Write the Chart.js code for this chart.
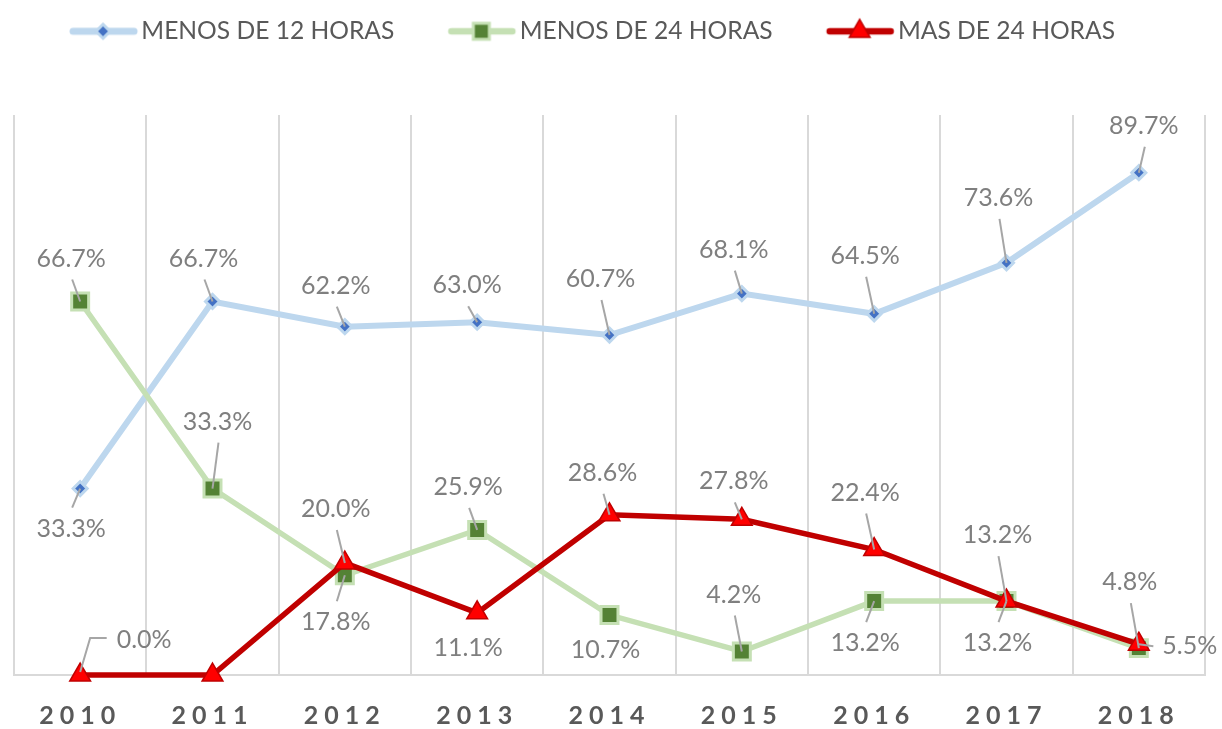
<!DOCTYPE html>
<html>
<head>
<meta charset="utf-8">
<script src="https://cdn.jsdelivr.net/npm/chart.js@4.4.1/dist/chart.umd.min.js"></script>
<style>
html,body{margin:0;padding:0;background:#ffffff;}
#wrap{width:1222px;height:729px;}
</style>
</head>
<body>
<div id="wrap"><canvas id="c" width="1222" height="729"></canvas></div>
<script>
// ---- data ----
const categories = ['2010', '2011', '2012', '2013', '2014', '2015', '2016', '2017', '2018'];
const seriesNames = ['MENOS DE 12 HORAS', 'MENOS DE 24 HORAS', 'MAS DE 24 HORAS'];
const menos12 = [33.3, 66.7, 62.2, 63.0, 60.7, 68.1, 64.5, 73.6, 89.7];
const menos24 = [66.7, 33.3, 17.8, 25.9, 10.7, 4.2, 13.2, 13.2, 4.8];
const mas24   = [0.0, 0.0, 20.0, 11.1, 28.6, 27.8, 22.4, 13.2, 5.5];

// ---- label placement (offset of label from its point, leader type: 0 none, 1 straight, 2 elbow, 3 side) ----
const LABEL_LAYOUT = [
  [[-9,40,1],[-9,-43,1],[-9,-41,1],[-10,-37,1],[-9,-56,1],[-8,-44,1],[-9,-58,1],[-8,-65,1],[5,-47,1]],
  [[-9,-43,1],[5,-67,1],[-9,47,1],[-9,-43,1],[-4,35,0],[-8,-57,1],[-9,42,1],[-9,42,1],[-9,-66,1]],
  [[64,-35,2],null,[-9,-54,1],[-9,35,0],[-7,-42,1],[-8,-38,1],[-9,-57,1],[-9,-66,1],[51,2,3]]
];

const STYLE = [
  {line:'#bdd7ee', lw:6, shape:'rectRot', r:7, fill:'#4472c4', border:'#bdd7ee', bw:3},
  {line:'#c5e0b4', lw:5.5, shape:'rect', r:12, fill:'#548235', border:'#c5e0b4', bw:3},
  {line:'#c00000', lw:5.5, shape:'triangle', r:12, fill:'#ff0000', border:'#c00000', bw:1.5}
];

function makeIcon(s) {
  const c = document.createElement('canvas');
  c.width = 131; c.height = 30;
  const g = c.getContext('2d');
  g.strokeStyle = s.line; g.lineWidth = s.lw + 1; g.lineCap = 'round';
  g.beginPath(); g.moveTo(58, 15); g.lineTo(119, 15); g.stroke();
  const cx = 88, cy = 15;
  g.fillStyle = s.fill; g.strokeStyle = s.border; g.lineWidth = s.bw;
  g.beginPath();
  if (s.shape === 'rectRot') {
    const r = 7;
    g.moveTo(cx - r, cy); g.lineTo(cx, cy - r); g.lineTo(cx + r, cy); g.lineTo(cx, cy + r); g.closePath();
  } else if (s.shape === 'rect') {
    const h = 8;
    g.rect(cx - h, cy - h, 2*h, 2*h);
  } else {
    const r = 12;
    g.moveTo(cx, cy - r);
    g.lineTo(cx + r*Math.sin(2*Math.PI/3), cy - r*Math.cos(2*Math.PI/3));
    g.lineTo(cx + r*Math.sin(4*Math.PI/3), cy - r*Math.cos(4*Math.PI/3));
    g.closePath();
  }
  g.fill(); g.stroke();
  return c;
}
const icons = STYLE.map(makeIcon);

const labelPlugin = {
  id: 'pctLabels',
  afterInit(chart) {
    const lg = chart.legend;
    if (lg) {
      const fit = lg.fit;
      lg.fit = function () { fit.call(this); this.height = 112; };
      const draw = lg.draw;
      lg.draw = function () {
        const ctx = this.ctx; ctx.save(); ctx.translate(-36, 0); draw.call(this); ctx.restore();
      };
    }
  },
  afterDatasetsDraw(chart) {
    const ctx = chart.ctx;
    ctx.save();
    ctx.font = '25px Lato';
    ctx.textAlign = 'center';
    ctx.textBaseline = 'middle';
    chart.data.datasets.forEach((ds, di) => {
      const meta = chart.getDatasetMeta(di);
      meta.data.forEach((pt, i) => {
        const lay = LABEL_LAYOUT[di][i];
        if (!lay) return;
        const [dx, dy, kind] = lay;
        const lx = pt.x + dx, ly = pt.y + dy;
        const text = ds.data[i].toFixed(1) + '%';
        const w = ctx.measureText(text).width;
        ctx.strokeStyle = '#a6a6a6';
        ctx.lineWidth = 2;
        ctx.beginPath();
        if (kind === 1) {
          ctx.moveTo(lx + 1, ly + (dy < 0 ? 21 : -21));
          ctx.lineTo(pt.x, pt.y);
        } else if (kind === 2) {
          ctx.moveTo(pt.x, pt.y - 3);
          ctx.lineTo(pt.x + 10, ly - 2);
          ctx.lineTo(lx - w / 2 - 10, ly - 2);
        } else if (kind === 3) {
          ctx.moveTo(pt.x, pt.y);
          ctx.lineTo(lx - w / 2 - 9, ly);
        }
        ctx.stroke();
        ctx.fillStyle = '#7f7f7f';
        ctx.fillText(text, lx, ly);
      });
    });
    ctx.restore();
    ctx.letterSpacing = '6px';
  },
  afterDraw(chart) {
    chart.ctx.letterSpacing = '0px';
  }
};

const seriesData = [menos12, menos24, mas24];
const datasets = seriesData.map((d, i) => ({
  label: seriesNames[i],
  data: d,
  borderColor: STYLE[i].line,
  backgroundColor: STYLE[i].line,
  borderWidth: STYLE[i].lw,
  pointStyle: STYLE[i].shape,
  pointRadius: STYLE[i].r,
  pointHoverRadius: STYLE[i].r,
  pointBackgroundColor: STYLE[i].fill,
  pointBorderColor: STYLE[i].border,
  pointBorderWidth: STYLE[i].bw,
  tension: 0,
  fill: false,
  clip: false,
  order: 3 - i
}));

new Chart(document.getElementById('c'), {
  type: 'line',
  data: { labels: categories, datasets: datasets },
  plugins: [labelPlugin],
  options: {
    responsive: false,
    animation: false,
    devicePixelRatio: 1,
    layout: { autoPadding: false, padding: { left: 14, right: 17, top: 3, bottom: 1 } },
    plugins: {
      tooltip: { enabled: false },
      legend: {
        display: true,
        position: 'top',
        align: 'center',
        labels: {
          usePointStyle: true,
          pointStyleWidth: 97,
          padding: 16,
          color: '#595959',
          font: { family: 'Lato', size: 24.6 },
          generateLabels(chart) {
            return chart.data.datasets.map((ds, i) => ({
              text: ds.label,
              pointStyle: icons[i],
              fontColor: '#595959',
              datasetIndex: i,
              hidden: false,
              lineWidth: 0,
              strokeStyle: 'rgba(0,0,0,0)',
              fillStyle: 'rgba(0,0,0,0)'
            }));
          }
        }
      }
    },
    scales: {
      x: {
        offset: true,
        grid: { offset: true, color: '#d9d9d9', lineWidth: 2, drawTicks: false },
        border: { color: '#d9d9d9', width: 2 },
        afterFit(scale) { scale.height = 53; },
        ticks: {
          z: 1,
          padding: 28,
          color: '#595959',
          font: { family: 'Lato', size: 25, weight: 'bold', lineHeight: 1 }
        }
      },
      y: {
        display: false,
        min: 0,
        max: 100
      }
    }
  }
});
</script>
</body>
</html>
